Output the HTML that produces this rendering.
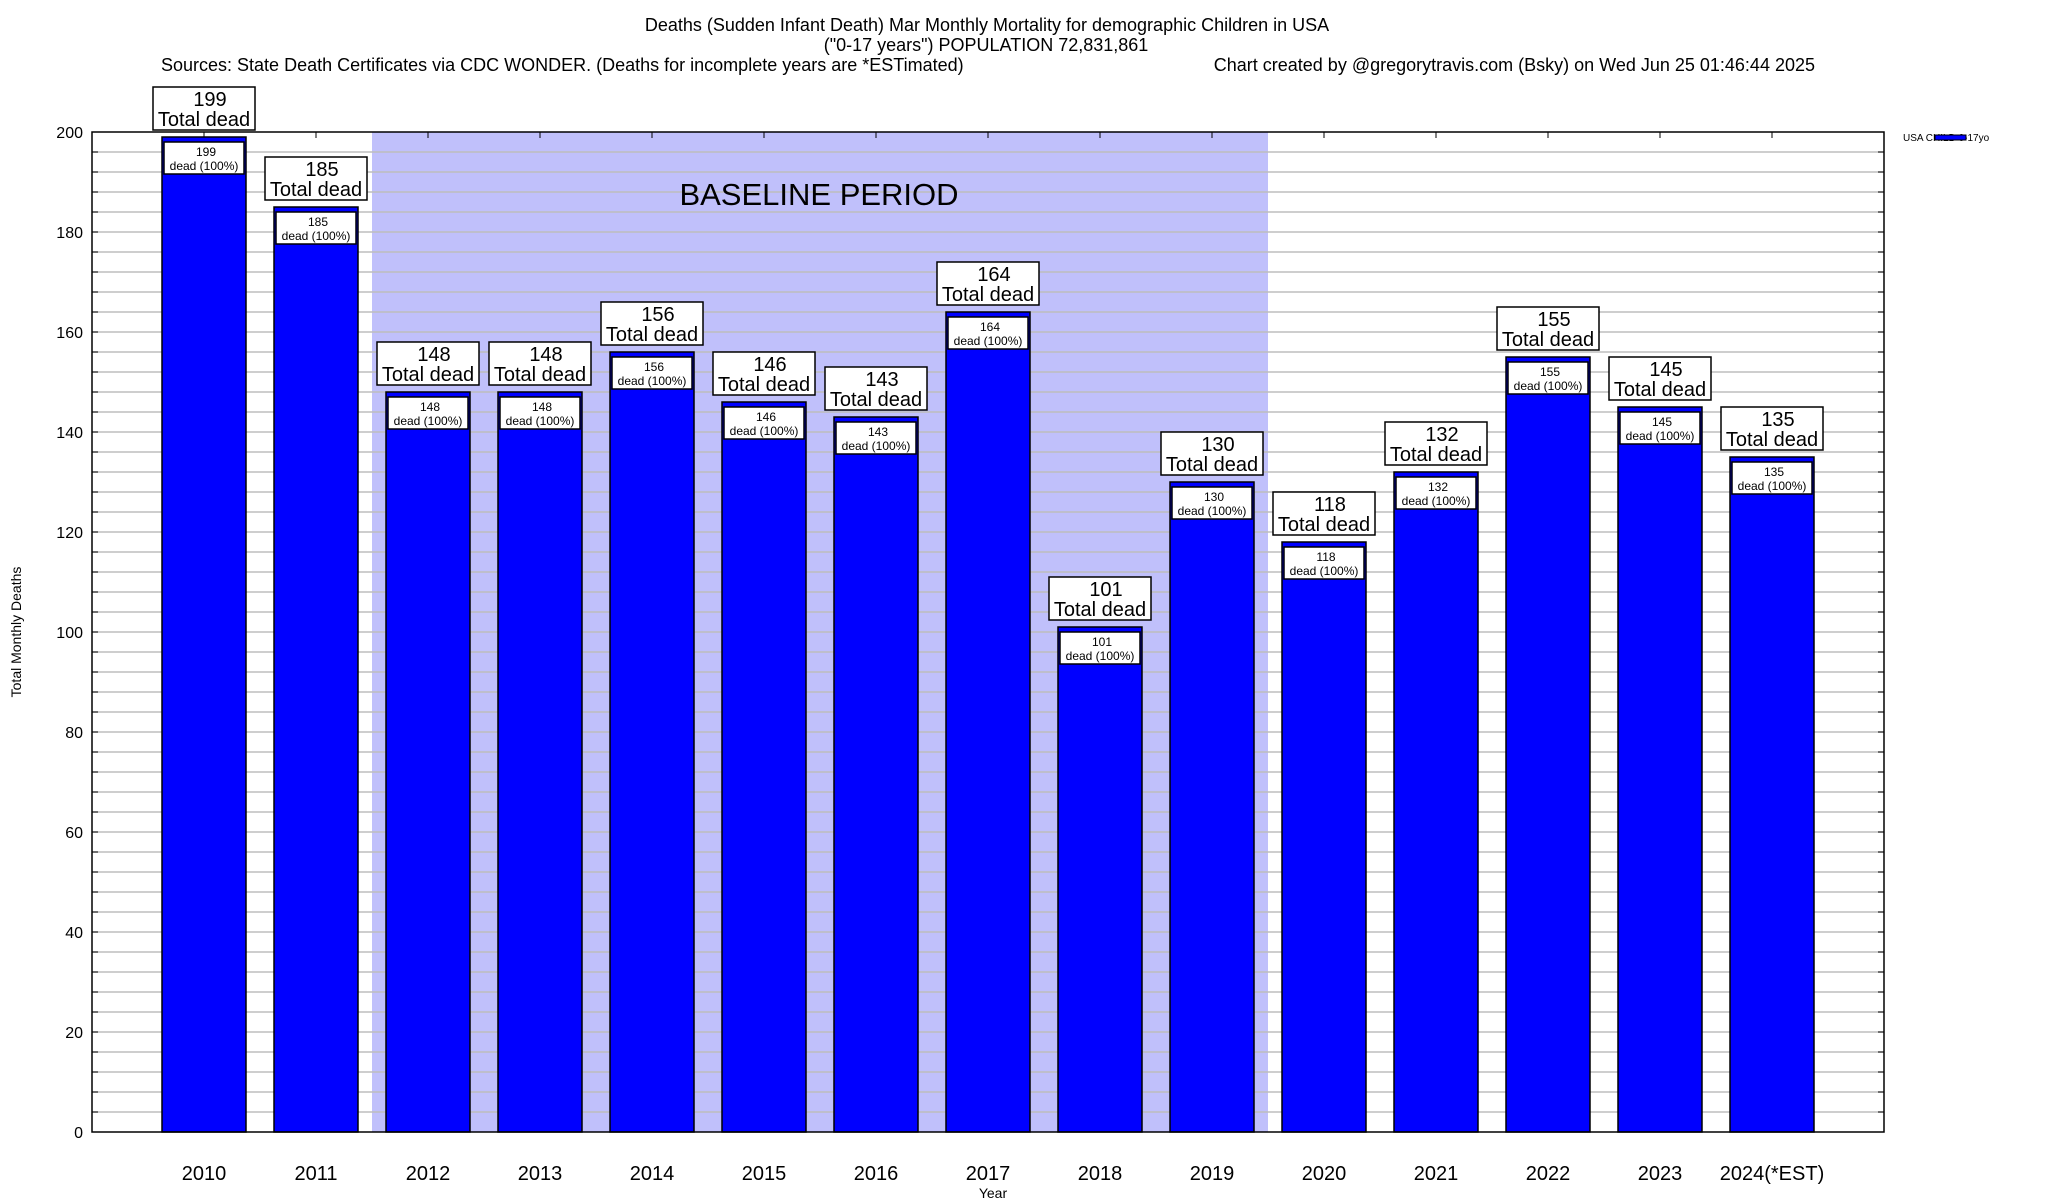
<!DOCTYPE html>
<html><head><meta charset="utf-8"><style>
html,body{margin:0;padding:0;background:#fff}
svg{display:block;font-family:"Liberation Sans",Arial,sans-serif}
</style></head><body>
<svg id="chart" width="2048" height="1200" viewBox="0 0 2048 1200" xmlns="http://www.w3.org/2000/svg">
<g font-size="18" fill="#000">
<text x="987" y="31" text-anchor="middle">Deaths (Sudden Infant Death) Mar Monthly Mortality for demographic Children in USA</text>
<text x="986" y="51" text-anchor="middle">("0-17 years") POPULATION 72,831,861</text>
<text x="161" y="71">Sources: State Death Certificates via CDC WONDER. (Deaths for incomplete years are *ESTimated)</text>
<text x="1815" y="71" text-anchor="end">Chart created by @gregorytravis.com (Bsky) on Wed Jun 25 01:46:44 2025</text>
</g>
<g id="plot"></g>
<g>
<text x="1903" y="141" font-size="10">USA CHILD 0-17yo</text>
<rect x="1935" y="135" width="31" height="5" fill="#0000ff" stroke="#000" stroke-width="1"/>
</g>
<text transform="translate(21,632) rotate(-90)" text-anchor="middle" font-size="14">Total Monthly Deaths</text>
<text x="993" y="1198" text-anchor="middle" font-size="14">Year</text>
</svg>
<script>
const categories = ["2010","2011","2012","2013","2014","2015","2016","2017","2018","2019","2020","2021","2022","2023","2024(*EST)"];
const values = [199,185,148,148,156,146,143,164,101,130,118,132,155,145,135];
const yTicks = [0,20,40,60,80,100,120,140,160,180,200];
const baselineStart = 1.5, baselineEnd = 9.5;

const NS = "http://www.w3.org/2000/svg";
const L = 92, R = 1884, T = 132, B = 1132;
const yMax = 200;
const xs = i => L + (R - L) / 16 * (i + 1);
const xsf = v => L + (R - L) / 16 * (v + 1);
const ys = v => B - (B - T) * v / yMax;
const plot = document.getElementById('plot');
function mk(tag, attrs, parent) {
  const e = document.createElementNS(NS, tag);
  for (const k in attrs) e.setAttribute(k, attrs[k]);
  (parent || plot).appendChild(e);
  return e;
}
// baseline band
const band = mk('rect', {x: xsf(baselineStart), y: T, width: xsf(baselineEnd) - xsf(baselineStart), height: B - T, fill: '#c0c0fb'});


// grid
for (let v = 4; v < yMax; v += 4) {
  const g = mk('line', {x1: L, x2: R, y1: ys(v), y2: ys(v), stroke: '#bdbdbd', 'stroke-width': 1.5});
  
  
  const t1 = mk('line', {x1: L, x2: L + 6, y1: ys(v), y2: ys(v), stroke: '#000', 'stroke-width': 1});
  
  
  const t2 = mk('line', {x1: R - 6, x2: R, y1: ys(v), y2: ys(v), stroke: '#000', 'stroke-width': 1});
  
  
}
const bl = mk('text', {x: 819, y: 205, 'text-anchor': 'middle', 'font-size': 31});
bl.textContent = 'BASELINE PERIOD';


// y ticks
yTicks.forEach(v => {
  const t = mk('text', {x: 83, y: ys(v) + 6, 'text-anchor': 'end', 'font-size': 16});
  t.textContent = v;
  
  
});
// bars
const bw = (R - L) / 16 * 0.75;
categories.forEach((c, i) => {
  const v = values[i], cx = xs(i), top = ys(v);
  const tk = mk('line', {x1: cx, x2: cx, y1: T, y2: T + 6, stroke: '#000'});
  
  
  const bar = mk('rect', {x: cx - bw / 2, y: top, width: bw, height: B - top, fill: '#0000ff', stroke: '#000', 'stroke-width': 1.5});
  
  
  const ib = mk('rect', {x: cx - bw / 2 + 2, y: top + 5, width: bw - 4, height: 32, fill: '#fff', stroke: '#000', 'stroke-width': 1.5});
  
  
  const it1 = mk('text', {x: cx + 2, y: top + 19, 'text-anchor': 'middle', 'font-size': 12});
  it1.textContent = v;
  
  
  const it2 = mk('text', {x: cx, y: top + 33, 'text-anchor': 'middle', 'font-size': 12});
  it2.textContent = 'dead (100%)';
  
  
  const ob = mk('rect', {x: cx - 51, y: top - 50, width: 102, height: 43, fill: '#fff', stroke: '#000', 'stroke-width': 1.5});
  
  
  const ot1 = mk('text', {x: cx + 6, y: top - 31, 'text-anchor': 'middle', 'font-size': 20});
  ot1.textContent = v;
  
  
  const ot2 = mk('text', {x: cx, y: top - 11, 'text-anchor': 'middle', 'font-size': 20});
  ot2.textContent = 'Total dead';
  
  
  const xl = mk('text', {x: cx, y: B + 48, 'text-anchor': 'middle', 'font-size': 20});
  xl.textContent = c;
  
  
});
const frame = mk('rect', {x: L, y: T, width: R - L, height: B - T, fill: 'none', stroke: '#000', 'stroke-width': 1.5});


</script>
</body></html>
